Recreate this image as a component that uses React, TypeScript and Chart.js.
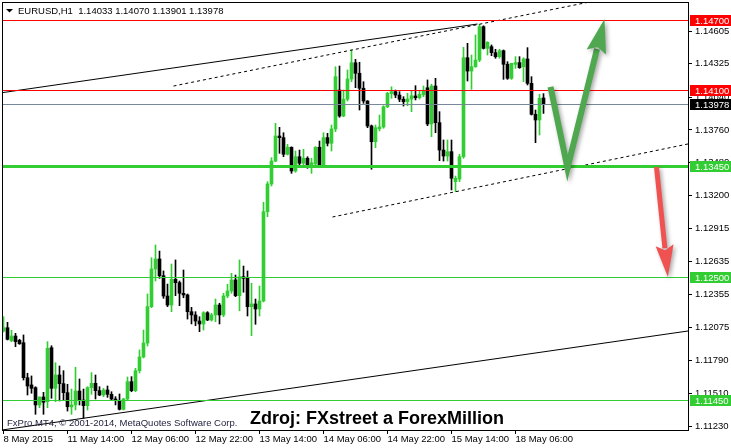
import React, { useEffect, useRef } from 'react';
import { Chart, registerables } from 'chart.js';

Chart.register(...registerables);

// ---------- text ----------
const headerText = 'EURUSD,H1  1.14033 1.14070 1.13901 1.13978';
const copyrightText = 'FxPro MT4, \u00A9 2001-2014, MetaQuotes Software Corp.';
const sourceText = 'Zdroj: FXstreet a ForexMillion';

// ---------- H1 candles (bar 0 = 8 May 2015 22:00) ----------
const opens = [
  1.12042, 1.12070, 1.11959, 1.11999, 1.11962, 1.11942, 1.11643, 1.11581, 1.11558, 1.11410,
  1.11478, 1.11438, 1.11899, 1.11552, 1.11666, 1.11592, 1.11515, 1.11393, 1.11410, 1.11529,
  1.11452, 1.11404, 1.11558, 1.11595, 1.11532, 1.11495, 1.11538, 1.11501, 1.11461, 1.11445,
  1.11373, 1.11461, 1.11609, 1.11532, 1.11703, 1.11820, 1.11939, 1.12250, 1.12572, 1.12657,
  1.12514, 1.12341, 1.12264, 1.12484, 1.12455, 1.12364, 1.12350, 1.12207, 1.12179, 1.12127,
  1.12102, 1.12198, 1.12136, 1.12179, 1.12264, 1.12179, 1.12341, 1.12384, 1.12478, 1.12344,
  1.12506, 1.12492, 1.12250, 1.12273, 1.12230, 1.12298, 1.13061, 1.13298, 1.13494, 1.13708,
  1.13694, 1.13552, 1.13612, 1.13409, 1.13531, 1.13475, 1.13518, 1.13446, 1.13469, 1.13612,
  1.13452, 1.13694, 1.13646, 1.13768, 1.14101, 1.13879, 1.14022, 1.14195, 1.14334, 1.14244,
  1.14116, 1.14007, 1.13794, 1.13659, 1.13770, 1.13785, 1.13958, 1.14070, 1.14087, 1.14058,
  1.14022, 1.14001, 1.14024, 1.14050, 1.14035, 1.14060, 1.14120, 1.13811, 1.14135, 1.13822,
  1.13588, 1.13537, 1.13574, 1.13318, 1.13340, 1.13531, 1.14377, 1.14263, 1.14300, 1.14357,
  1.14642, 1.14457, 1.14471, 1.14420, 1.14386, 1.14437, 1.14321, 1.14201, 1.14320, 1.14335,
  1.14300, 1.14366, 1.14158, 1.13893, 1.13845, 1.14033,
];
const highs = [
  1.12164, 1.12116, 1.12048, 1.12022, 1.11971, 1.12008, 1.11681, 1.11658, 1.11566, 1.11478,
  1.11518, 1.11951, 1.11916, 1.11771, 1.11743, 1.11703, 1.11587, 1.11546, 1.11732, 1.11632,
  1.11546, 1.11566, 1.11686, 1.11666, 1.11566, 1.11552, 1.11572, 1.11523, 1.11481, 1.11504,
  1.11467, 1.11649, 1.11652, 1.11723, 1.11880, 1.12050, 1.12358, 1.12668, 1.12777, 1.12725,
  1.12555, 1.12443, 1.12614, 1.12649, 1.12469, 1.12563, 1.12358, 1.12244, 1.12207, 1.12164,
  1.12207, 1.12207, 1.12193, 1.12315, 1.12279, 1.12364, 1.12441, 1.12535, 1.12520, 1.12649,
  1.12597, 1.12555, 1.12450, 1.12315, 1.12426, 1.13142, 1.13318, 1.13523, 1.13817, 1.13782,
  1.13736, 1.13637, 1.13615, 1.13580, 1.13588, 1.13594, 1.13531, 1.13518, 1.13617, 1.13665,
  1.13736, 1.13731, 1.13802, 1.14300, 1.14306, 1.14101, 1.14272, 1.14443, 1.14363, 1.14338,
  1.14172, 1.14010, 1.13802, 1.13802, 1.13887, 1.13967, 1.14081, 1.14129, 1.14101, 1.14087,
  1.14044, 1.14073, 1.14092, 1.14138, 1.14095, 1.14135, 1.14187, 1.14150, 1.14201, 1.13916,
  1.13674, 1.13674, 1.13674, 1.13366, 1.13552, 1.14466, 1.14500, 1.14400, 1.14571, 1.14662,
  1.14650, 1.14514, 1.14486, 1.14449, 1.14449, 1.14443, 1.14343, 1.14329, 1.14386, 1.14386,
  1.14377, 1.14463, 1.14215, 1.13930, 1.14064, 1.14070,
];
const lows = [
  1.12033, 1.11965, 1.11951, 1.11908, 1.11928, 1.11623, 1.11495, 1.11510, 1.11330, 1.11387,
  1.11330, 1.11387, 1.11467, 1.11438, 1.11444, 1.11452, 1.11358, 1.11330, 1.11367, 1.11410,
  1.11296, 1.11367, 1.11501, 1.11461, 1.11489, 1.11481, 1.11475, 1.11455, 1.11410, 1.11367,
  1.11367, 1.11454, 1.11523, 1.11523, 1.11683, 1.11812, 1.11914, 1.12241, 1.12469, 1.12492,
  1.12321, 1.12250, 1.12207, 1.12344, 1.12258, 1.12326, 1.12144, 1.12102, 1.12087, 1.12036,
  1.12050, 1.12130, 1.12127, 1.12121, 1.12102, 1.12164, 1.12326, 1.12364, 1.12335, 1.12215,
  1.12373, 1.12170, 1.12002, 1.12099, 1.12170, 1.12290, 1.13019, 1.13281, 1.13488, 1.13560,
  1.13531, 1.13546, 1.13389, 1.13398, 1.13446, 1.13452, 1.13432, 1.13389, 1.13452, 1.13446,
  1.13446, 1.13623, 1.13580, 1.13745, 1.13868, 1.13873, 1.14007, 1.14172, 1.14121, 1.13930,
  1.13987, 1.13779, 1.13424, 1.13608, 1.13751, 1.13774, 1.13950, 1.14030, 1.14035, 1.14001,
  1.13964, 1.13967, 1.13916, 1.14016, 1.14024, 1.14044, 1.13796, 1.13702, 1.13736, 1.13497,
  1.13494, 1.13494, 1.13247, 1.13232, 1.13318, 1.13518, 1.14178, 1.14107, 1.14295, 1.14343,
  1.14451, 1.14400, 1.14394, 1.14372, 1.14372, 1.14192, 1.14192, 1.14192, 1.14286, 1.14286,
  1.14172, 1.14144, 1.13887, 1.13651, 1.13717, 1.13901,
];
const closes = [
  1.12070, 1.11971, 1.11999, 1.11951, 1.11933, 1.11643, 1.11572, 1.11552, 1.11410, 1.11478,
  1.11433, 1.11894, 1.11552, 1.11666, 1.11592, 1.11515, 1.11395, 1.11410, 1.11529, 1.11452,
  1.11404, 1.11558, 1.11595, 1.11532, 1.11495, 1.11538, 1.11501, 1.11461, 1.11452, 1.11373,
  1.11461, 1.11609, 1.11532, 1.11703, 1.11820, 1.11939, 1.12250, 1.12572, 1.12657, 1.12514,
  1.12341, 1.12264, 1.12484, 1.12455, 1.12364, 1.12350, 1.12207, 1.12179, 1.12127, 1.12102,
  1.12198, 1.12136, 1.12179, 1.12264, 1.12179, 1.12341, 1.12384, 1.12478, 1.12344, 1.12506,
  1.12492, 1.12250, 1.12273, 1.12230, 1.12298, 1.13061, 1.13298, 1.13494, 1.13708, 1.13694,
  1.13552, 1.13612, 1.13409, 1.13531, 1.13475, 1.13518, 1.13446, 1.13480, 1.13612, 1.13452,
  1.13694, 1.13646, 1.13768, 1.14215, 1.13879, 1.14022, 1.14195, 1.14334, 1.14244, 1.14116,
  1.14007, 1.13794, 1.13659, 1.13779, 1.13785, 1.13958, 1.14073, 1.14087, 1.14058, 1.14022,
  1.14001, 1.14024, 1.14052, 1.14035, 1.14064, 1.14092, 1.13811, 1.14135, 1.13822, 1.13588,
  1.13537, 1.13574, 1.13347, 1.13347, 1.13531, 1.14377, 1.14263, 1.14300, 1.14357, 1.14642,
  1.14457, 1.14509, 1.14420, 1.14386, 1.14437, 1.14321, 1.14201, 1.14329, 1.14335, 1.14292,
  1.14366, 1.14158, 1.13893, 1.13845, 1.14030, 1.13978,
];

// ---------- axes ----------
const timeTickIndex = [0, 16, 32, 48, 64, 80, 96, 112, 128];
const timeTickLabels = [
  '8 May 2015', '11 May 14:00', '12 May 06:00', '12 May 22:00', '13 May 14:00',
  '14 May 06:00', '14 May 22:00', '15 May 14:00', '18 May 06:00',
];
const priceTicks = [
  1.14605, 1.14325, 1.1404, 1.1376, 1.1348, 1.132, 1.12915, 1.12635, 1.12355, 1.12075,
  1.1179, 1.1151, 1.1123,
];
const xMin = -0.375;
const xMax = 171.125;
const priceMin = 1.11196;
const priceMax = 1.14853;

// ---------- horizontal levels ----------
const levelPrices = [1.147, 1.141, 1.13978, 1.1345, 1.125, 1.1145];
const levelColors = ['#FF0000', '#FF0000', '#778899', '#32CD32', '#32CD32', '#32CD32'];
const levelWidths = [1, 1, 1, 3, 1, 1];
const levelBoxColors = ['#FF0000', '#FF0000', '#000000', '#32CD32', '#32CD32', '#32CD32'];

// ---------- trend lines (bar index, price) ----------
const upperSolidX = [-0.375, 118.5];
const upperSolidY = [1.14078, 1.14665];
const upperDashX = [42.5, 146.5];
const upperDashY = [1.14135, 1.14853];
const lowerDashX = [82.25, 171.125];
const lowerDashY = [1.13016, 1.13640];
const lowerSolidX = [-0.375, 171.125];
const lowerSolidY = [1.11196, 1.12042];

// ---------- arrows (bar index, price) ----------
const greenArrowX = [136.75, 141, 150.25];
const greenArrowY = [1.14127, 1.13435, 1.14708];
const redArrowX = [163.25, 166.1];
const redArrowY = [1.13443, 1.12503];

const BULL = '#32CD32';
const BEAR = '#000000';
const SMALL_FONT = '"Liberation Sans", Arial, sans-serif';

const toPoints = (xs: number[], ys: number[]) => xs.map((x, i) => ({ x, y: ys[i] }));

function drawArrow(ctx: CanvasRenderingContext2D, pts: { x: number; y: number }[], color: string, width: number, headLen: number, headHalf: number) {
  const n = pts.length;
  const tip = pts[n - 1];
  const prev = pts[n - 2];
  const dx = tip.x - prev.x;
  const dy = tip.y - prev.y;
  const len = Math.hypot(dx, dy);
  const ux = dx / len;
  const uy = dy / len;
  const bx = tip.x - ux * headLen;
  const by = tip.y - uy * headLen;
  ctx.save();
  ctx.shadowColor = 'rgba(0,0,0,0.35)';
  ctx.shadowBlur = 4;
  ctx.shadowOffsetX = 2;
  ctx.shadowOffsetY = 2;
  ctx.strokeStyle = color;
  ctx.fillStyle = color;
  ctx.lineWidth = width;
  ctx.lineJoin = 'miter';
  ctx.lineCap = 'butt';
  ctx.beginPath();
  ctx.moveTo(pts[0].x, pts[0].y);
  for (let k = 1; k < n - 1; k++) ctx.lineTo(pts[k].x, pts[k].y);
  ctx.lineTo(bx + ux * 3, by + uy * 3);
  ctx.stroke();
  ctx.beginPath();
  ctx.moveTo(tip.x, tip.y);
  ctx.lineTo(bx - uy * headHalf, by + ux * headHalf);
  ctx.lineTo(bx + ux * 5, by + uy * 5);
  ctx.lineTo(bx + uy * headHalf, by - ux * headHalf);
  ctx.closePath();
  ctx.fill();
  ctx.restore();
}

export default function App() {
  const ref = useRef<HTMLCanvasElement>(null);

  useEffect(() => {
    const canvas = ref.current;
    if (!canvas) return;
    const idx = opens.map((_, i) => i);
    const colors = idx.map((i) => (closes[i] >= opens[i] ? BULL : BEAR));
    const wickData = idx.map((i) => ({ x: i, y: [lows[i], highs[i]] }));
    const bodyData = idx.map((i) => ({
      x: i,
      y: [Math.min(opens[i], closes[i]), Math.max(opens[i], closes[i])],
    }));

    const overlay = {
      id: 'overlay',
      beforeDraw(chart: any) {
        const { ctx } = chart;
        ctx.save();
        ctx.fillStyle = '#ffffff';
        ctx.fillRect(0, 0, chart.width, chart.height);
        ctx.restore();
      },
      afterDatasetsDraw(chart: any) {
        const { ctx, chartArea: a } = chart;
        const xs = chart.scales.x;
        const ys = chart.scales.y;
        ctx.save();
        ctx.beginPath();
        ctx.rect(a.left, a.top, a.right - a.left, a.bottom - a.top);
        ctx.clip();
        // levels
        levelPrices.forEach((v, k) => {
          const py = ys.getPixelForValue(v);
          const yy = levelWidths[k] % 2 ? Math.round(py) + 0.5 : Math.round(py);
          ctx.strokeStyle = levelColors[k];
          ctx.lineWidth = levelWidths[k];
          ctx.beginPath();
          ctx.moveTo(a.left, yy);
          ctx.lineTo(a.right, yy);
          ctx.stroke();
        });
        // watermark texts
        ctx.fillStyle = '#1e1e3c';
        ctx.font = `9.5px ${SMALL_FONT}`;
        ctx.textBaseline = 'alphabetic';
        ctx.textAlign = 'left';
        ctx.fillText(copyrightText, 7, 426);
        ctx.fillStyle = '#000';
        ctx.font = `bold 18px ${SMALL_FONT}`;
        ctx.fillText(sourceText, 250, 424);
        // arrows
        const gp = greenArrowX.map((x, i) => ({ x: xs.getPixelForValue(x), y: ys.getPixelForValue(greenArrowY[i]) }));
        drawArrow(ctx, gp, '#4FA84F', 6, 34, 10);
        const rp = redArrowX.map((x, i) => ({ x: xs.getPixelForValue(x), y: ys.getPixelForValue(redArrowY[i]) }));
        drawArrow(ctx, rp, '#F05252', 5, 32, 9);
        ctx.restore();

        // frame
        ctx.save();
        ctx.strokeStyle = '#000';
        ctx.lineWidth = 1;
        ctx.strokeRect(a.left + 0.5, a.top + 0.5, a.right - a.left, a.bottom - a.top);
        // header
        ctx.fillStyle = '#000';
        ctx.beginPath();
        ctx.moveTo(6, 9);
        ctx.lineTo(13, 9);
        ctx.lineTo(9.5, 12.5);
        ctx.closePath();
        ctx.fill();
        ctx.font = `9.5px ${SMALL_FONT}`;
        ctx.textBaseline = 'alphabetic';
        ctx.fillText(headerText, 18, 14);
        // level price boxes on the axis
        ctx.textBaseline = 'middle';
        levelPrices.forEach((v, k) => {
          const py = Math.round(ys.getPixelForValue(v));
          ctx.fillStyle = levelBoxColors[k];
          ctx.fillRect(a.right + 2, py - 5, chart.width - a.right - 2, 11);
          ctx.fillStyle = '#ffffff';
          ctx.fillText(v.toFixed(5), a.right + 7, py + 1);
        });
        ctx.restore();
      },
    };

    const lineDs = (xsArr: number[], ysArr: number[], dashed: boolean) => ({
      type: 'line' as const,
      data: toPoints(xsArr, ysArr),
      borderColor: '#000000',
      borderWidth: 1,
      borderDash: dashed ? [3, 3] : [],
      pointRadius: 0,
      tension: 0,
      fill: false,
      clip: 0,
      order: 0,
    });

    const chart = new Chart(canvas, {
      type: 'bar',
      data: {
        datasets: [
          lineDs(upperSolidX, upperSolidY, false),
          lineDs(upperDashX, upperDashY, true),
          lineDs(lowerDashX, lowerDashY, true),
          lineDs(lowerSolidX, lowerSolidY, false),
          {
            type: 'bar',
            data: wickData as any,
            backgroundColor: colors,
            borderWidth: 0,
            barThickness: 1,
            grouped: false,
            minBarLength: 1,
            order: 2,
          },
          {
            type: 'bar',
            data: bodyData as any,
            backgroundColor: colors,
            borderWidth: 0,
            barThickness: 3,
            grouped: false,
            minBarLength: 1,
            order: 1,
          },
        ] as any,
      },
      options: {
        animation: false,
        responsive: false,
        devicePixelRatio: 1,
        events: [],
        layout: { padding: { left: 2, top: 2, right: 0, bottom: 0 } },
        plugins: { legend: { display: false }, tooltip: { enabled: false } },
        scales: {
          x: {
            type: 'linear',
            position: 'bottom',
            min: xMin,
            max: xMax,
            bounds: 'data',
            offset: false,
            border: { display: false },
            grid: { display: true, drawOnChartArea: false, drawTicks: true, tickLength: 4, color: '#000', offset: false },
            ticks: {
              autoSkip: false,
              maxRotation: 0,
              minRotation: 0,
              align: 'start',
              padding: 0,
              color: '#000',
              font: { family: SMALL_FONT, size: 9.5 },
              callback: (value: any) => {
                const k = timeTickIndex.indexOf(Number(value));
                return k >= 0 ? timeTickLabels[k] : '';
              },
            },
            afterBuildTicks: (axis: any) => {
              axis.ticks = timeTickIndex.map((v) => ({ value: v }));
            },
            afterFit: (axis: any) => {
              axis.height = 18;
              axis.paddingLeft = 0;
              axis.paddingRight = 0;
              axis.paddingTop = 0;
              axis.paddingBottom = 0;
            },
          },
          y: {
            type: 'linear',
            position: 'right',
            min: priceMin,
            max: priceMax,
            bounds: 'data',
            beginAtZero: false,
            border: { display: false },
            grid: { display: true, drawOnChartArea: false, drawTicks: true, tickLength: 4, color: '#000' },
            ticks: {
              autoSkip: false,
              padding: 3,
              color: '#000',
              font: { family: SMALL_FONT, size: 9.5 },
              callback: (value: any) => Number(value).toFixed(5),
            },
            afterBuildTicks: (axis: any) => {
              axis.ticks = priceTicks.map((v) => ({ value: v }));
            },
            afterFit: (axis: any) => {
              axis.width = 43;
              axis.paddingLeft = 0;
              axis.paddingRight = 0;
              axis.paddingTop = 0;
              axis.paddingBottom = 0;
            },
          },
        },
      } as any,
      plugins: [overlay],
    });
    return () => chart.destroy();
  }, []);

  return (
    <div style={{ position: 'absolute', left: 0, top: 0, width: 731, height: 448, background: '#ffffff' }}>
      <canvas ref={ref} width={731} height={448} style={{ display: 'block' }} />
    </div>
  );
}
